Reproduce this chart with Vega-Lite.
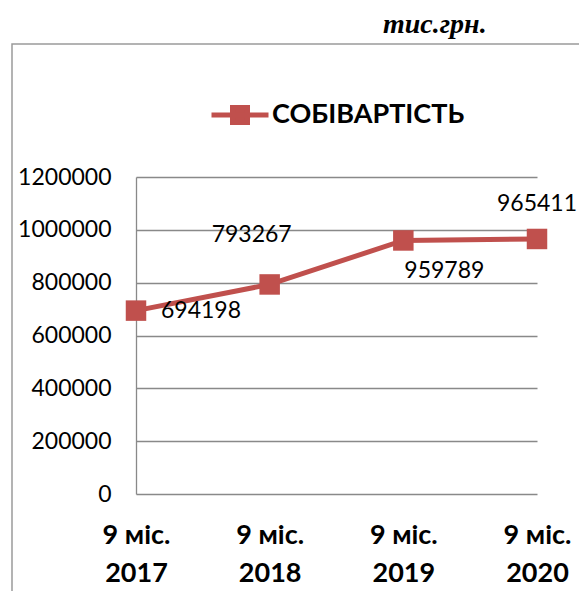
{
  "$schema": "https://vega.github.io/schema/vega-lite/v6.json",
  "autosize": {"type": "none"},
  "width": 568,
  "height": 548,
  "padding": {"left": 12, "top": 44, "right": 0, "bottom": 0},
  "background": "white",
  "config": {
    "view": {"stroke": "#9a9a9a", "strokeWidth": 1.5},
    "font": "Lato"
  },
  "title": {
    "text": "тис.грн.",
    "font": "Liberation Serif",
    "fontSize": 28,
    "fontStyle": "italic",
    "fontWeight": "bold",
    "color": "black",
    "anchor": "start",
    "frame": "group",
    "align": "left",
    "baseline": "alphabetic",
    "dx": 371,
    "dy": 29,
    "offset": 12
  },
  "data": {
    "values": [
      {"period": "9 міс. 2017", "value": 694198},
      {"period": "9 міс. 2018", "value": 793267},
      {"period": "9 міс. 2019", "value": 959789},
      {"period": "9 міс. 2020", "value": 965411}
    ]
  },
  "encoding": {
    "x": {
      "field": "period",
      "type": "ordinal",
      "sort": null,
      "scale": {"type": "point", "range": [124, 525], "padding": 0},
      "axis": {
        "orient": "bottom",
        "offset": -98,
        "domain": false,
        "ticks": false,
        "grid": false,
        "title": null,
        "labelAngle": 0,
        "labelExpr": "[slice(datum.value, 0, 6), slice(datum.value, 7)]",
        "labelFont": "Lato",
        "labelFontSize": 27,
        "labelFontWeight": "bold",
        "labelLineHeight": 38,
        "labelColor": "black",
        "labelPadding": 28
      }
    },
    "y": {
      "field": "value",
      "type": "quantitative",
      "scale": {"domain": [0, 1200000], "range": [450, 133], "nice": false, "zero": false},
      "axis": {
        "values": [0, 200000, 400000, 600000, 800000, 1000000, 1200000],
        "format": "d",
        "offset": -124,
        "domain": true,
        "domainColor": "#898989",
        "domainWidth": 1.3,
        "ticks": false,
        "grid": true,
        "gridColor": "#898989",
        "gridWidth": 1.3,
        "title": null,
        "labelFont": "Lato",
        "labelFontSize": 23,
        "labelColor": "black",
        "labelPadding": 25,
        "labelOverlap": false,
        "labelFlush": false
      }
    }
  },
  "layer": [
    {
      "mark": {"type": "line", "strokeWidth": 5},
      "encoding": {
        "color": {
          "datum": "СОБІВАРТІСТЬ",
          "scale": {"range": ["#C0504D"]},
          "legend": {
            "orient": "none",
            "legendX": 197,
            "legendY": 40,
            "title": null,
            "padding": 0,
            "symbolType": "M-1,0H1M-0.263,-0.263H0.263V0.263H-0.263Z",
            "symbolSize": 3249,
            "symbolStrokeWidth": 5,
            "symbolFillColor": "#C0504D",
            "symbolStrokeColor": "#C0504D",
            "symbolOpacity": 1,
            "labelFont": "Lato",
            "labelFontSize": 27,
            "labelFontWeight": "bold",
            "labelColor": "black",
            "labelOffset": 1,
            "labelLimit": 400,
            "encode": {
              "symbols": {
                "update": {
                  "fill": {"value": "#C0504D"},
                  "stroke": {"value": "#C0504D"},
                  "strokeWidth": {"value": 5}
                }
              }
            }
          }
        }
      }
    },
    {
      "mark": {"type": "point", "shape": "square", "filled": true, "size": 420, "color": "#C0504D", "opacity": 1}
    },
    {
      "transform": [{"filter": "datum.period == '9 міс. 2017'"}],
      "mark": {"type": "text", "font": "Lato", "fontSize": 23, "color": "black", "align": "left", "baseline": "middle", "dx": 25, "dy": 0},
      "encoding": {"text": {"field": "value", "type": "quantitative", "format": "d"}}
    },
    {
      "transform": [{"filter": "datum.period == '9 міс. 2018'"}],
      "mark": {"type": "text", "font": "Lato", "fontSize": 23, "color": "black", "align": "center", "baseline": "middle", "dx": -18, "dy": -49},
      "encoding": {"text": {"field": "value", "type": "quantitative", "format": "d"}}
    },
    {
      "transform": [{"filter": "datum.period == '9 міс. 2019'"}],
      "mark": {"type": "text", "font": "Lato", "fontSize": 23, "color": "black", "align": "center", "baseline": "middle", "dx": 41, "dy": 31},
      "encoding": {"text": {"field": "value", "type": "quantitative", "format": "d"}}
    },
    {
      "transform": [{"filter": "datum.period == '9 міс. 2020'"}],
      "mark": {"type": "text", "font": "Lato", "fontSize": 23, "color": "black", "align": "center", "baseline": "middle", "dx": 0, "dy": -35},
      "encoding": {"text": {"field": "value", "type": "quantitative", "format": "d"}}
    }
  ]
}
